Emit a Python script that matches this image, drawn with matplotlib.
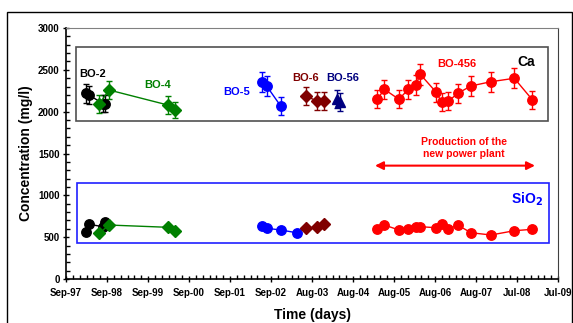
import matplotlib
matplotlib.use("Agg")
import matplotlib.pyplot as plt
from matplotlib.patches import Rectangle
from matplotlib.ticker import MultipleLocator, FixedLocator
import numpy as np

plt.rcParams['font.family'] = ['Liberation Sans', 'DejaVu Sans']
plt.rcParams['font.weight'] = 'bold'

# x values: days since Sep-97
tick_labels = ["Sep-97", "Sep-98", "Sep-99", "Sep-00", "Sep-01", "Sep-02", "Aug-03",
               "Aug-04", "Aug-05", "Aug-06", "Aug-07", "Jul-08", "Jul-09"]

bo2_x = [178, 205, 329, 347]
bo2_ca = [2220, 2200, 2095, 2095]
bo2_si = [565, 654, 625, 678]

bo4_x = [296, 383, 905, 973]
bo4_ca = [2092, 2259, 2080, 2020]
bo4_si = [546, 645, 618, 574]

bo5_ca_x = [1742, 1786, 1911]
bo5_ca = [2358, 2307, 2068]
bo5_si_x = [1742, 1786, 1911, 2053]
bo5_si = [637, 606, 586, 553]

bo6_x = [2135, 2235, 2300]
bo6_ca = [2187, 2127, 2127]
bo6_si = [606, 618, 657]

bo56_x = [2415, 2435]
bo56_ca = [2150, 2115]

bo456_x = [2771, 2834, 2964, 3047, 3113, 3154, 3296, 3344, 3403, 3487, 3605, 3783, 3991, 4151]
bo456_ca = [2148, 2267, 2148, 2267, 2319, 2447, 2231, 2112, 2124, 2219, 2307, 2358, 2399, 2143]
bo456_si = [594, 645, 586, 594, 618, 625, 613, 654, 594, 645, 553, 526, 577, 594]

fig = plt.figure(figsize=(5.73, 3.23), dpi=100)
ax = fig.add_axes([66/573, 1-279/323, (558-66)/573, (279-28)/323])

# figure border
fig.patches.append(Rectangle((7/573, -0.1), (571.5-7)/573, 1.1-12/323, transform=fig.transFigure,
                             fill=False, edgecolor='black', lw=1.0))

series = [
    (bo2_x, bo2_ca, bo2_x, bo2_si, 'black', 'o', 6.8),
    (bo4_x, bo4_ca, bo4_x, bo4_si, '#008000', 'D', 5.8),
    (bo5_ca_x, bo5_ca, bo5_si_x, bo5_si, '#0000ff', 'o', 6.8),
    (bo6_x, bo6_ca, bo6_x, bo6_si, '#800000', 'D', 5.8),
    (bo56_x, bo56_ca, None, None, '#000080', '^', 6.8),
    (bo456_x, bo456_ca, bo456_x, bo456_si, '#ff0000', 'o', 6.8),
]
for xc, yc, xs, ys, c, m, ms in series:
    yc = np.array(yc)
    ax.errorbar(xc, yc, yerr=0.05*yc, color=c, marker=m, ms=ms, lw=1, elinewidth=1,
                capsize=2.5, capthick=1, zorder=3)
    if xs is not None:
        ax.plot(xs, ys, color=c, marker=m, ms=ms, lw=1, zorder=3)

# boxes
ax.add_patch(Rectangle((90, 1892), 4291-90, 2768-1892, fill=False, edgecolor='#505050', lw=1.2, zorder=2))
ax.add_patch(Rectangle((98, 430), 4300-98, 1147-430, fill=False, edgecolor='#2020ff', lw=1.2, zorder=2))

fs = 8
ax.text(240, 2450, "BO-2", color='black', fontsize=fs, ha='center', va='center', fontweight='bold')
ax.text(819, 2319, "BO-4", color='#008000', fontsize=fs, ha='center', va='center', fontweight='bold')
ax.text(1522, 2235, "BO-5", color='#0000ff', fontsize=fs, ha='center', va='center', fontweight='bold')
ax.text(2136, 2402, "BO-6", color='#800000', fontsize=fs, ha='center', va='center', fontweight='bold')
ax.text(2466, 2402, "BO-56", color='#000080', fontsize=fs, ha='center', va='center', fontweight='bold')
ax.text(3481, 2570, "BO-456", color='#ff0000', fontsize=fs, ha='center', va='center', fontweight='bold')
ax.text(4095, 2594, "Ca", color='black', fontsize=10, ha='center', va='center', fontweight='bold')
ax.text(3540, 1560, "Production of the\nnew power plant", color='#ff0000', fontsize=7.5, ha='center',
        va='center', fontweight='bold', linespacing=1.25)
ax.annotate("", xy=(2751, 1355), xytext=(4175, 1355),
            arrowprops=dict(arrowstyle='<|-|>', color='#ff0000', lw=1.5, mutation_scale=12,
                            shrinkA=0, shrinkB=0))
ax.text(4104, 950, "SiO$_\\mathbf{2}$", color='#0000ff', fontsize=10, ha='center', va='center', fontweight='bold')

ax.set_xlim(0, 4380)
ax.set_ylim(0, 3000)
ax.xaxis.set_major_locator(FixedLocator([365*i for i in range(13)]))
ax.set_xticklabels(tick_labels, fontsize=7, fontweight='bold')
ax.xaxis.set_minor_locator(FixedLocator([365*i/6 for i in range(73)]))
ax.yaxis.set_major_locator(MultipleLocator(500))
ax.yaxis.set_minor_locator(MultipleLocator(100))
for lab in ax.get_yticklabels():
    lab.set_fontsize(7)
    lab.set_fontweight('bold')
ax.tick_params(axis='both', which='major', direction='inout', length=5, width=1, pad=2)
ax.tick_params(axis='both', which='minor', direction='in', length=3, width=1)
ax.tick_params(axis='x', which='major', pad=4)

for s in ['top', 'right']:
    ax.spines[s].set_color('#808080')
ax.spines['right'].set_color('#404040')
for s in ['left', 'bottom']:
    ax.spines[s].set_linewidth(1.2)

ax.set_ylabel("Concentration (mg/l)", fontsize=10, fontweight='bold', labelpad=4)
ax.set_xlabel("Time (days)", fontsize=10, fontweight='bold', labelpad=7)

fig.savefig("out.png", dpi=100)
